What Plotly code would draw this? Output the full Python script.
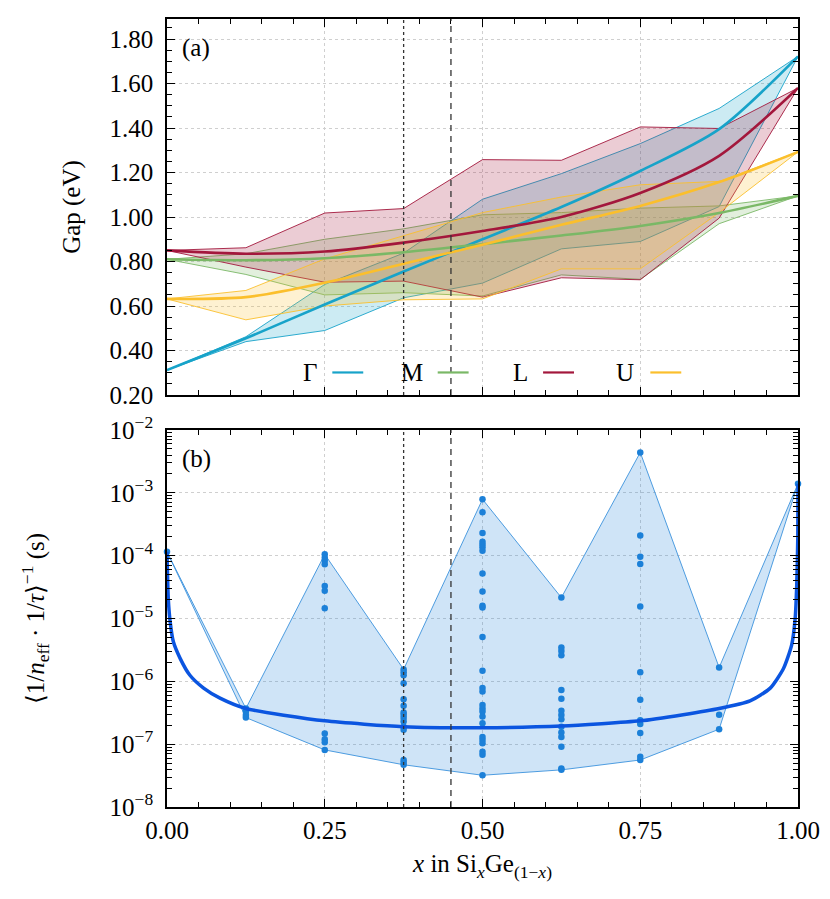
import plotly.graph_objects as go

# ---------------- data ----------------
x_nodes = [0.0, 0.125, 0.25, 0.375, 0.5, 0.625, 0.75, 0.875, 1.0]

gamma_mid = [0.312, 0.455, 0.607, 0.755, 0.900, 1.045, 1.207, 1.395, 1.722]
gamma_hi = [0.312, 0.462, 0.697, 0.838, 1.080, 1.195, 1.330, 1.488, 1.722]
gamma_lo = [0.312, 0.440, 0.490, 0.637, 0.703, 0.857, 0.890, 1.047, 1.722]

m_mid = [0.810, 0.806, 0.815, 0.842, 0.878, 0.917, 0.960, 1.018, 1.095]
m_hi = [0.810, 0.835, 0.900, 0.947, 1.010, 1.020, 1.040, 1.050, 1.095]
m_lo = [0.810, 0.742, 0.650, 0.660, 0.645, 0.740, 0.720, 0.970, 1.095]

l_mid = [0.850, 0.835, 0.845, 0.885, 0.937, 1.000, 1.108, 1.275, 1.580]
l_hi = [0.850, 0.862, 1.018, 1.038, 1.258, 1.255, 1.405, 1.398, 1.580]
l_lo = [0.850, 0.775, 0.707, 0.712, 0.640, 0.727, 0.718, 0.995, 1.580]

u_mid = [0.632, 0.640, 0.705, 0.790, 0.875, 0.965, 1.050, 1.157, 1.293]
u_hi = [0.632, 0.670, 0.812, 0.917, 1.020, 1.090, 1.145, 1.160, 1.293]
u_lo = [0.632, 0.538, 0.600, 0.628, 0.632, 0.767, 0.767, 1.020, 1.293]

band_names = ["Γ", "M", "L", "U"]
band_colors = ["#17a3c9", "#7ab866", "#a3173c", "#fbbf2c"]
band_fills = ["rgba(23,163,201,0.22)", "rgba(122,184,102,0.22)",
              "rgba(163,23,60,0.22)", "rgba(251,191,44,0.22)"]

# panel (b): scattered values at each composition
pts_000 = [1.15e-4]
pts_0125 = [3.7e-7, 3.3e-7, 2.9e-7, 2.65e-7]
pts_025 = [1.05e-4, 9.3e-5, 8.3e-5, 7.3e-5, 3.3e-5, 2.77e-5, 1.45e-5,
           1.48e-7, 1.2e-7, 1.07e-7, 8.1e-8]
pts_0375 = [1.55e-6, 1.39e-6, 1.25e-6, 9.3e-7, 5.2e-7, 4.1e-7, 3.2e-7, 2.9e-7,
            2.6e-7, 2.3e-7, 1.9e-7, 1.7e-7, 5.6e-8, 5.1e-8, 4.7e-8]
pts_050 = [7.9e-4, 4.9e-4, 2.3e-4, 1.67e-4, 1.5e-4, 1.36e-4, 1.2e-4, 5.2e-5,
           2.7e-5, 1.6e-5, 1.5e-5, 5.1e-6, 1.47e-6, 7.8e-7, 6.9e-7, 4.2e-7,
           3.7e-7, 3.3e-7, 2.75e-7, 2.15e-7, 1.3e-7, 1.17e-7, 1.03e-7, 7.6e-8,
           6.8e-8, 3.2e-8]
pts_0625 = [2.15e-5, 3.45e-6, 3.05e-6, 2.6e-6, 7.3e-7, 5.3e-7, 3.4e-7, 2.9e-7,
            2.5e-7, 1.9e-7, 1.54e-7, 1.3e-7, 9.1e-8, 4.1e-8, 3.9e-8]
pts_075 = [4.4e-3, 2.1e-4, 9.6e-5, 7.4e-5, 1.55e-5, 1.4e-6, 5.1e-7, 2.4e-7,
           2.1e-7, 1.5e-7, 6.3e-8, 5.6e-8]
pts_0875 = [1.66e-6, 2.95e-7, 1.73e-7]
pts_100 = [1.4e-3]
pts_all = [pts_000, pts_0125, pts_025, pts_0375, pts_050, pts_0625,
           pts_075, pts_0875, pts_100]

curve_x = [0.0, 0.002, 0.005, 0.010, 0.021, 0.036, 0.058, 0.084, 0.125, 0.25,
           0.375, 0.5, 0.625, 0.75, 0.818, 0.875, 0.924, 0.956, 0.977, 0.990,
           0.9955, 0.998, 0.9997, 1.0]
curve_y = [1.15e-4, 2.1e-5, 8.9e-6, 4.3e-6, 2.3e-6, 1.26e-6, 7.8e-7, 5.4e-7,
           3.7e-7, 2.35e-7, 1.9e-7, 1.83e-7, 1.94e-7, 2.35e-7, 2.95e-7, 3.7e-7,
           4.9e-7, 7.8e-7, 1.6e-6, 3.8e-6, 1.0e-5, 3.4e-5, 2.0e-4, 1.4e-3]

x_ticks = [0.0, 0.25, 0.5, 0.75, 1.0]
gap_ticks = [0.2, 0.4, 0.6, 0.8, 1.0, 1.2, 1.4, 1.6, 1.8]
log_tickvals = [1e-8, 1e-7, 1e-6, 1e-5, 1e-4, 1e-3, 1e-2]
log_ticktext = ["10<sup>−8</sup>", "10<sup>−7</sup>", "10<sup>−6</sup>",
                "10<sup>−5</sup>", "10<sup>−4</sup>", "10<sup>−3</sup>",
                "10<sup>−2</sup>"]
x_dotted = 0.375
x_dashed = 0.45

FONT = "Liberation Serif, DejaVu Serif, serif"
FS = 25

fig = go.Figure()

# ---------------- panel (a) ----------------
bands = [(gamma_mid, gamma_hi, gamma_lo), (m_mid, m_hi, m_lo),
         (l_mid, l_hi, l_lo), (u_mid, u_hi, u_lo)]
for (mid, hi, lo), name, col, fcol in zip(bands, band_names, band_colors, band_fills):
    fig.add_trace(go.Scatter(x=x_nodes, y=hi, mode="lines", xaxis="x2", yaxis="y2",
                             line=dict(color=col, width=0.9), showlegend=False,
                             hoverinfo="skip"))
    fig.add_trace(go.Scatter(x=x_nodes, y=lo, mode="lines", xaxis="x2", yaxis="y2",
                             line=dict(color=col, width=0.9), fill="tonexty",
                             fillcolor=fcol, showlegend=False, hoverinfo="skip"))
for (mid, hi, lo), name, col in zip(bands, band_names, band_colors):
    fig.add_trace(go.Scatter(x=x_nodes, y=mid, mode="lines", xaxis="x2", yaxis="y2",
                             line=dict(color=col, width=2.6, shape="spline", smoothing=0.8),
                             name=name, showlegend=False))

# ---------------- panel (b) ----------------
upper = [max(p) for p in pts_all]
lower = [min(p) for p in pts_all]
fig.add_trace(go.Scatter(x=x_nodes, y=upper, mode="lines",
                         line=dict(color="#3b92dd", width=0.9), showlegend=False))
fig.add_trace(go.Scatter(x=x_nodes, y=lower, mode="lines",
                         line=dict(color="#3b92dd", width=0.9), fill="tonexty",
                         fillcolor="rgba(30,128,216,0.21)", showlegend=False))
px, py = [], []
for xv, p in zip(x_nodes, pts_all):
    px += [xv] * len(p)
    py += p
fig.add_trace(go.Scatter(x=px, y=py, mode="markers", cliponaxis=False,
                         marker=dict(color="#1c80d8", size=6.5), showlegend=False))
fig.add_trace(go.Scatter(x=curve_x, y=curve_y, mode="lines",
                         line=dict(color="#0b55e0", width=3.5, shape="spline", smoothing=0.6),
                         showlegend=False))

axis_common = dict(showline=True, linecolor="black", linewidth=1.6, mirror="ticks",
                   ticks="inside", ticklen=8, tickwidth=1.3, tickcolor="black",
                   showgrid=True, gridcolor="#cfcfcf", griddash="dot", gridwidth=1,
                   zeroline=False, automargin=False,
                   tickfont=dict(family=FONT, size=FS, color="black"))

# the page body has an 8px margin, so the figure is drawn 8px smaller
fig.update_layout(
    width=822, height=891,
    margin=dict(l=159, r=32, t=11, b=92),
    plot_bgcolor="white", paper_bgcolor="white",
    font=dict(family=FONT, size=FS, color="black"),
    xaxis=dict(domain=[0, 1], anchor="y", range=[0, 1], tickvals=x_ticks,
               tickformat=".2f",
               minor=dict(ticks="inside", ticklen=5, dtick=0.05, tickcolor="black",
                          showgrid=False),
               title=dict(text="<i>x</i> in Si<sub><i>x</i></sub>Ge<sub>(1−<i>x</i>)</sub>",
                          font=dict(family=FONT, size=FS), standoff=12),
               **axis_common),
    yaxis=dict(domain=[0, 0.4784], anchor="x", type="log", range=[-8, -2],
               tickvals=log_tickvals, ticktext=log_ticktext, ticklabelstandoff=7,
               minor=dict(ticks="inside", ticklen=5, tickcolor="black", showgrid=False,
                          dtick="D1"),
               title=dict(text="⟨1/<i>n</i><sub>eff</sub> · 1/<i>τ</i>⟩<sup>−1</sup> (s)",
                          font=dict(family=FONT, size=FS), standoff=58),
               **axis_common),
    xaxis2=dict(domain=[0, 1], anchor="y2", range=[0, 1], tickvals=x_ticks,
                showticklabels=False, matches="x",
                minor=dict(ticks="inside", ticklen=5, dtick=0.05, tickcolor="black",
                           showgrid=False),
                **axis_common),
    yaxis2=dict(domain=[0.5228, 1.0], anchor="x2", range=[0.2, 1.89],
                tickvals=gap_ticks, tickformat=".2f", ticklabelstandoff=7,
                minor=dict(ticks="inside", ticklen=5, dtick=0.05, tickcolor="black",
                           showgrid=False),
                title=dict(text="Gap (eV)", font=dict(family=FONT, size=FS), standoff=22),
                **axis_common),
)

# vertical reference lines
for xr, yr in [("x", "y domain"), ("x2", "y2 domain")]:
    fig.add_shape(type="line", xref=xr, yref=yr, x0=x_dotted, x1=x_dotted, y0=0, y1=1,
                  line=dict(color="#333333", width=1.3, dash="dot"), layer="above")
    fig.add_shape(type="line", xref=xr, yref=yr, x0=x_dashed, x1=x_dashed, y0=0, y1=1,
                  line=dict(color="#333333", width=1.3, dash="6px,5px"), layer="above")

# panel labels
fig.add_annotation(text="(a)", xref="x2 domain", yref="y2 domain", x=0.02, y=0.965,
                   xanchor="left", yanchor="top", showarrow=False,
                   font=dict(family=FONT, size=FS))
fig.add_annotation(text="(b)", xref="x domain", yref="y domain", x=0.02, y=0.965,
                   xanchor="left", yanchor="top", showarrow=False,
                   font=dict(family=FONT, size=FS))

# custom legend (label then line sample), panel (a) bottom
leg_text_x = [0.227, 0.389, 0.561, 0.726]
leg_line_x0 = [0.262, 0.429, 0.596, 0.766]
leg_len = 0.049
leg_y = 0.06
for name, col, tx, lx in zip(band_names, band_colors, leg_text_x, leg_line_x0):
    fig.add_annotation(text=name, xref="x2 domain", yref="y2 domain", x=tx, y=leg_y,
                       xanchor="center", yanchor="middle", showarrow=False,
                       font=dict(family=FONT, size=FS))
    fig.add_shape(type="line", xref="x2 domain", yref="y2 domain", x0=lx, x1=lx + leg_len,
                  y0=leg_y, y1=leg_y, line=dict(color=col, width=2.2))

fig.write_html("out.html")
